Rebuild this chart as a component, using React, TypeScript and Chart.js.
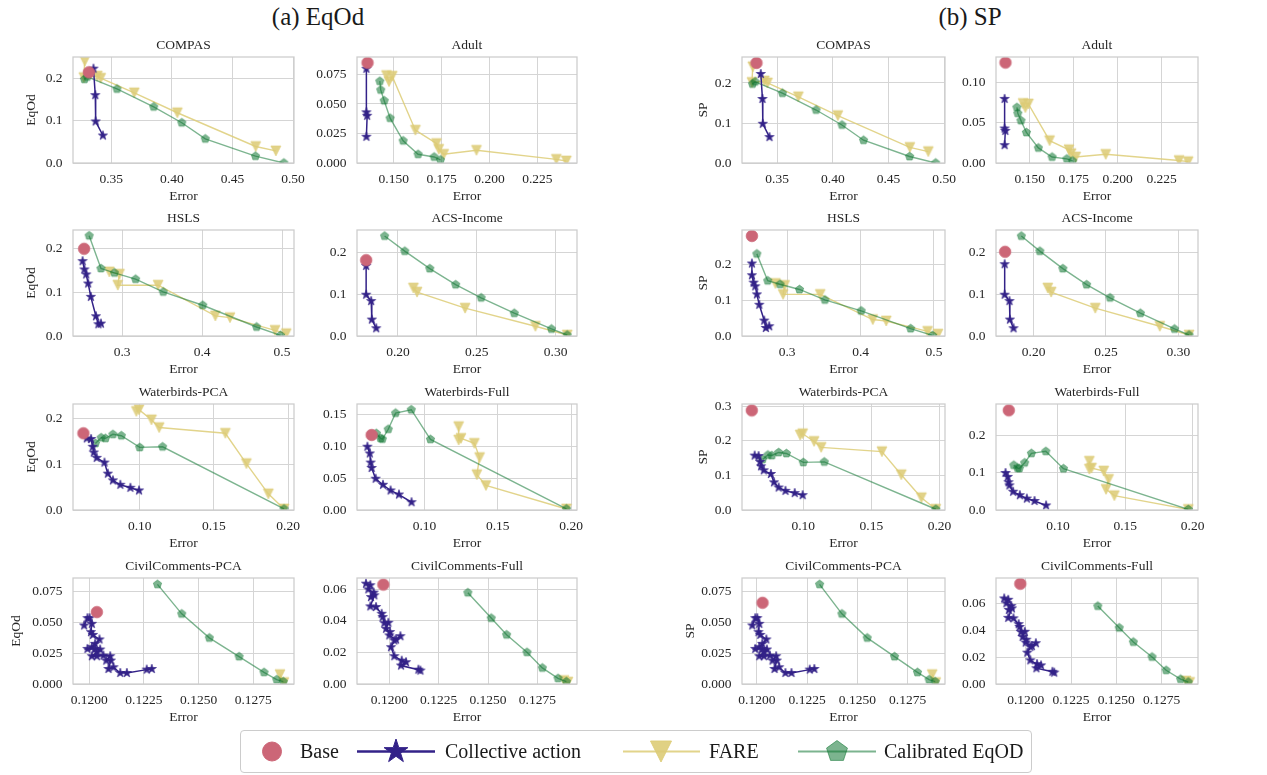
import React, { useEffect, useRef } from 'react';
import { Chart, registerables } from 'chart.js';

Chart.register(...registerables);

type Pt = [number, number];

// ---------------- COMPAS ----------------
const compasErrorRange = [0.3184, 0.5008];
const compasXTicks = ['0.35', '0.40', '0.45', '0.50'];
const compasEqodYTicks = ['0.0', '0.1', '0.2'];
const compasSpYTicks = ['0.0', '0.1', '0.2'];
const compasEqodYMax = 0.25;
const compasSpYMax = 0.265;
const compasEqodBase: Pt[] = [[0.3315, 0.214]];
const compasSpBase: Pt[] = [[0.3314, 0.25]];
const compasCollective: Pt[] = [[0.3353, 0.2225], [0.3368, 0.16], [0.3371, 0.098], [0.3431, 0.0648]];
const compasFare: Pt[] = [[0.3281, 0.2405], [0.3273, 0.2015], [0.3385, 0.205], [0.3413, 0.2], [0.369, 0.1655], [0.4045, 0.1185], [0.4692, 0.039], [0.4858, 0.0285]];
const compasCalib: Pt[] = [[0.3278, 0.1975], [0.3302, 0.203], [0.3547, 0.1746], [0.385, 0.1325], [0.4082, 0.095], [0.4276, 0.057], [0.469, 0.0162], [0.4924, 0]];

// ---------------- Adult ----------------
const adultErrorRange = [0.1308, 0.2457];
const adultXTicks = ['0.150', '0.175', '0.200', '0.225'];
const adultEqodYTicks = ['0.000', '0.025', '0.050', '0.075'];
const adultSpYTicks = ['0.00', '0.05', '0.10'];
const adultEqodYMax = 0.0898;
const adultSpYMax = 0.132;
const adultEqodBase: Pt[] = [[0.1363, 0.0849]];
const adultSpBase: Pt[] = [[0.1362, 0.125]];
const adultCollective: Pt[] = [[0.1357, 0.0798], [0.1357, 0.0429], [0.1361, 0.04], [0.1357, 0.0222]];
const adultFare: Pt[] = [[0.1462, 0.0741], [0.1475, 0.069], [0.1492, 0.0735], [0.1613, 0.0278], [0.1723, 0.0165], [0.1735, 0.0116], [0.1761, 0.0074], [0.1932, 0.0108], [0.2349, 0.0031], [0.2401, 0.0017]];
const adultCalib: Pt[] = [[0.1427, 0.0693], [0.1432, 0.0619], [0.145, 0.0528], [0.1481, 0.038], [0.1549, 0.0188], [0.1627, 0.0074], [0.1711, 0.0051], [0.1744, 0.0026]];

// ---------------- HSLS ----------------
const hslsErrorRange = [0.2385, 0.515];
const hslsXTicks = ['0.3', '0.4', '0.5'];
const hslsEqodYTicks = ['0.0', '0.1', '0.2'];
const hslsSpYTicks = ['0.0', '0.1', '0.2'];
const hslsEqodYMax = 0.243;
const hslsSpYMax = 0.2967;
const hslsEqodBase: Pt[] = [[0.2524, 0.2]];
const hslsSpBase: Pt[] = [[0.252, 0.28]];
const hslsEqodCollective: Pt[] = [[0.2505, 0.1716], [0.2528, 0.1525], [0.255, 0.141], [0.2575, 0.1203], [0.2608, 0.0897], [0.2672, 0.0452], [0.2703, 0.0268], [0.2735, 0.0284]];
const hslsSpCollective: Pt[] = [[0.252, 0.2028], [0.252, 0.17], [0.2543, 0.1493], [0.2566, 0.139], [0.2588, 0.1164], [0.262, 0.0873], [0.2688, 0.0432], [0.271, 0.0225], [0.2756, 0.0272]];
const hslsFare: Pt[] = [[0.284, 0.147], [0.2966, 0.1418], [0.2945, 0.1165], [0.345, 0.1165], [0.4166, 0.046], [0.4349, 0.0421], [0.4913, 0.013], [0.5053, 0.0054]];
const hslsCalib: Pt[] = [[0.2587, 0.2299], [0.2735, 0.1548], [0.2903, 0.1448], [0.3168, 0.1303], [0.3514, 0.1011], [0.4008, 0.0705], [0.4682, 0.0207], [0.4981, 0.0015]];

// ---------------- ACS-Income ----------------
const acsErrorRange = [0.174, 0.3136];
const acsXTicks = ['0.20', '0.25', '0.30'];
const acsEqodYTicks = ['0.0', '0.1', '0.2'];
const acsSpYTicks = ['0.0', '0.1', '0.2'];
const acsEqodYMax = 0.2548;
const acsSpYMax = 0.2548;
const acsEqodBase: Pt[] = [[0.1798, 0.1823]];
const acsSpBase: Pt[] = [[0.1803, 0.2024]];
const acsEqodCollective: Pt[] = [[0.1798, 0.1685], [0.1798, 0.0992], [0.183, 0.0839], [0.1834, 0.0395], [0.1862, 0.0185]];
const acsSpCollective: Pt[] = [[0.18, 0.1726], [0.18, 0.0992], [0.1833, 0.0839], [0.1836, 0.0395], [0.1861, 0.0185]];
const acsFare: Pt[] = [[0.2098, 0.1153], [0.2121, 0.1056], [0.2426, 0.0669], [0.2872, 0.0234], [0.3074, 0.0024]];
const acsCalib: Pt[] = [[0.1915, 0.2403], [0.2043, 0.204], [0.2202, 0.162], [0.2366, 0.1234], [0.2528, 0.0919], [0.2738, 0.0548], [0.2974, 0.0169], [0.3074, 0.0024]];

// ---------------- Waterbirds-PCA ----------------
const wbPcaErrorRange = [0.055, 0.204];
const wbPcaXTicks = ['0.10', '0.15', '0.20'];
const wbPcaEqodYTicks = ['0.0', '0.1', '0.2'];
const wbPcaSpYTicks = ['0.0', '0.1', '0.2', '0.3'];
const wbPcaEqodYMax = 0.2325;
const wbPcaSpYMax = 0.3058;
const wbPcaEqodBase: Pt[] = [[0.062, 0.1683]];
const wbPcaSpBase: Pt[] = [[0.0622, 0.2874]];
const wbPcaCollective: Pt[] = [[0.0643, 0.157], [0.0672, 0.1557], [0.0683, 0.1387], [0.069, 0.126], [0.071, 0.1144], [0.0762, 0.104], [0.0785, 0.0797], [0.0819, 0.0649], [0.0869, 0.0553], [0.0937, 0.0487], [0.0995, 0.0428]];
const wbPcaFare: Pt[] = [[0.0977, 0.2162], [0.0995, 0.22], [0.1079, 0.1978], [0.1131, 0.1808], [0.1577, 0.1683], [0.1719, 0.1018], [0.1867, 0.0354], [0.1973, 0.0022]];
const wbPcaCalib: Pt[] = [[0.0701, 0.1461], [0.074, 0.1587], [0.0769, 0.1572], [0.0819, 0.166], [0.0876, 0.163], [0.1, 0.1373], [0.1154, 0.1387], [0.1973, 0.0022]];

// ---------------- Waterbirds-Full ----------------
const wbFullErrorRange = [0.054, 0.204];
const wbFullXTicks = ['0.10', '0.15', '0.20'];
const wbFullEqodYTicks = ['0.00', '0.05', '0.10', '0.15'];
const wbFullSpYTicks = ['0.0', '0.1', '0.2'];
const wbFullEqodYMax = 0.1667;
const wbFullSpYMax = 0.285;
const wbFullEqodBase: Pt[] = [[0.064, 0.118]];
const wbFullSpBase: Pt[] = [[0.0635, 0.268]];
const wbFullCollective: Pt[] = [[0.0611, 0.0995], [0.0627, 0.0889], [0.0633, 0.0746], [0.064, 0.0661], [0.0667, 0.0492], [0.0717, 0.0397], [0.0769, 0.0307], [0.0826, 0.0243], [0.0912, 0.0122]];
const wbFullFare: Pt[] = [[0.1233, 0.1312], [0.1233, 0.11], [0.1249, 0.1127], [0.134, 0.1048], [0.1376, 0.0825], [0.1357, 0.0556], [0.1419, 0.0386], [0.1968, 0.0016]];
const wbFullCalib: Pt[] = [[0.0672, 0.1206], [0.0701, 0.1127], [0.0713, 0.1116], [0.0753, 0.127], [0.0803, 0.1524], [0.091, 0.1577], [0.1041, 0.1111], [0.1968, 0.0016]];

// ---------------- CivilComments-PCA ----------------
const ccPcaErrorRange = [0.11926, 0.12936];
const ccPcaXTicks = ['0.1200', '0.1225', '0.1250', '0.1275'];
const ccPcaEqodYTicks = ['0.000', '0.025', '0.050', '0.075'];
const ccPcaSpYTicks = ['0.000', '0.025', '0.050', '0.075'];
const ccPcaEqodYMax = 0.0855;
const ccPcaSpYMax = 0.0855;
const ccPcaEqodBase: Pt[] = [[0.12035, 0.058]];
const ccPcaSpBase: Pt[] = [[0.12028, 0.0655]];
const ccPcaCollective: Pt[] = [
  [0.11977, 0.0472], [0.11992, 0.0531], [0.12002, 0.0531], [0.12012, 0.0485], [0.12008, 0.0418],
  [0.12017, 0.0396], [0.12047, 0.0359], [0.12027, 0.0324], [0.12012, 0.0297], [0.11992, 0.0283],
  [0.12027, 0.0283], [0.1205, 0.0278], [0.12035, 0.0256], [0.12012, 0.0224], [0.12035, 0.0224],
  [0.12065, 0.0229], [0.12096, 0.0224], [0.12078, 0.0189], [0.12099, 0.0189], [0.12088, 0.0121],
  [0.12111, 0.0135], [0.12142, 0.0089], [0.12172, 0.0089], [0.12263, 0.0116], [0.12286, 0.0121],
];
const ccPcaFare: Pt[] = [[0.12872, 0.0076], [0.1289, 0.0012]];
const ccPcaCalib: Pt[] = [[0.12312, 0.0804], [0.12423, 0.0566], [0.12549, 0.0372], [0.12685, 0.0221], [0.12799, 0.0094], [0.12857, 0.0035], [0.12887, 0.0019]];

// ---------------- CivilComments-Full ----------------
const ccFullErrorRange = [0.11836, 0.12951];
const ccFullXTicks = ['0.1200', '0.1225', '0.1250', '0.1275'];
const ccFullEqodYTicks = ['0.00', '0.02', '0.04', '0.06'];
const ccFullSpYTicks = ['0.00', '0.02', '0.04', '0.06'];
const ccFullEqodYMax = 0.0672;
const ccFullSpYMax = 0.0788;
const ccFullEqodBase: Pt[] = [[0.119695, 0.063]];
const ccFullSpBase: Pt[] = [[0.1197, 0.0745]];
const ccFullCollective: Pt[] = [
  [0.118815, 0.0636], [0.119035, 0.0626], [0.118934, 0.06], [0.119204, 0.0579], [0.119069, 0.0551],
  [0.119238, 0.0562], [0.119035, 0.0492], [0.119323, 0.0488], [0.119611, 0.0445], [0.119661, 0.0424],
  [0.119746, 0.0386], [0.119949, 0.0388], [0.119831, 0.035], [0.120034, 0.0329], [0.12, 0.0308],
  [0.120339, 0.0282], [0.120559, 0.0303], [0.120254, 0.0276], [0.120085, 0.0233], [0.120254, 0.0176],
  [0.120626, 0.0148], [0.120846, 0.0138], [0.120592, 0.0117], [0.121473, 0.0091], [0.121574, 0.0085],
];
const ccFullFare: Pt[] = [[0.12885, 0.0022], [0.12905, 0.0012]];
const ccFullCalib: Pt[] = [[0.123978, 0.0579], [0.125162, 0.0418], [0.125941, 0.0312], [0.126974, 0.0201], [0.127752, 0.0102], [0.128548, 0.0036], [0.128971, 0.0015]];

// ---------------- Legend / titles ----------------
const seriesNames = ['Base', 'Collective action', 'FARE', 'Calibrated EqOD'];
const groupTitles = ['(a) EqOd', '(b) SP'];

// ---------------- Style ----------------
const FONT = "'Liberation Serif', 'Times New Roman', serif";
const TEXT = '#262626';
const GRID = '#d5d5d5';
const SPINE = '#cccccc';
const RED = '#CC6677';
const NAVY = '#332288';
const SAND = '#DDCC77';
const GREEN = '#117733';

const COLS = [73, 357, 742, 996];
const COLW = [221, 220, 203, 202];
const ROWS = [57, 230, 404, 578];
const ROWH = 106;
const TH = 28;
const XH = 42;
const PR = 28;
const PB = 2;

interface Panel {
  title: string; col: number; row: number; yLabel: string | null; yw: number; yLabelPad: number;
  xRange: number[]; yMax: number; xTicks: string[]; yTicks: string[];
  base: Pt[]; collective: Pt[]; fare: Pt[]; calib: Pt[];
}

// distance (px) from the plot's left edge to the centre of the y-axis label
function yLabelOffset(col: number, row: number) {
  if (col === 0) return row === 3 ? 57 : 41.6;
  return row === 3 ? 52 : 39;
}

const mk = (title: string, col: number, row: number, xRange: number[], yMax: number, xTicks: string[], yTicks: string[], base: Pt[], collective: Pt[], fare: Pt[], calib: Pt[]): Panel => {
  const hasLabel = col === 0 || col === 2;
  const yw = hasLabel && row === 3 ? 76 : 60;
  return {
    title, col, row, yLabel: col === 0 ? 'EqOd' : col === 2 ? 'SP' : null,
    yw, yLabelPad: yw - 8.1 - yLabelOffset(col, row),
    xRange, yMax, xTicks, yTicks, base, collective, fare, calib,
  };
};

const PANELS: Panel[] = [
  mk('COMPAS', 0, 0, compasErrorRange, compasEqodYMax, compasXTicks, compasEqodYTicks, compasEqodBase, compasCollective, compasFare, compasCalib),
  mk('Adult', 1, 0, adultErrorRange, adultEqodYMax, adultXTicks, adultEqodYTicks, adultEqodBase, adultCollective, adultFare, adultCalib),
  mk('HSLS', 0, 1, hslsErrorRange, hslsEqodYMax, hslsXTicks, hslsEqodYTicks, hslsEqodBase, hslsEqodCollective, hslsFare, hslsCalib),
  mk('ACS-Income', 1, 1, acsErrorRange, acsEqodYMax, acsXTicks, acsEqodYTicks, acsEqodBase, acsEqodCollective, acsFare, acsCalib),
  mk('Waterbirds-PCA', 0, 2, wbPcaErrorRange, wbPcaEqodYMax, wbPcaXTicks, wbPcaEqodYTicks, wbPcaEqodBase, wbPcaCollective, wbPcaFare, wbPcaCalib),
  mk('Waterbirds-Full', 1, 2, wbFullErrorRange, wbFullEqodYMax, wbFullXTicks, wbFullEqodYTicks, wbFullEqodBase, wbFullCollective, wbFullFare, wbFullCalib),
  mk('CivilComments-PCA', 0, 3, ccPcaErrorRange, ccPcaEqodYMax, ccPcaXTicks, ccPcaEqodYTicks, ccPcaEqodBase, ccPcaCollective, ccPcaFare, ccPcaCalib),
  mk('CivilComments-Full', 1, 3, ccFullErrorRange, ccFullEqodYMax, ccFullXTicks, ccFullEqodYTicks, ccFullEqodBase, ccFullCollective, ccFullFare, ccFullCalib),
  mk('COMPAS', 2, 0, compasErrorRange, compasSpYMax, compasXTicks, compasSpYTicks, compasSpBase, compasCollective, compasFare, compasCalib),
  mk('Adult', 3, 0, adultErrorRange, adultSpYMax, adultXTicks, adultSpYTicks, adultSpBase, adultCollective, adultFare, adultCalib),
  mk('HSLS', 2, 1, hslsErrorRange, hslsSpYMax, hslsXTicks, hslsSpYTicks, hslsSpBase, hslsSpCollective, hslsFare, hslsCalib),
  mk('ACS-Income', 3, 1, acsErrorRange, acsSpYMax, acsXTicks, acsSpYTicks, acsSpBase, acsSpCollective, acsFare, acsCalib),
  mk('Waterbirds-PCA', 2, 2, wbPcaErrorRange, wbPcaSpYMax, wbPcaXTicks, wbPcaSpYTicks, wbPcaSpBase, wbPcaCollective, wbPcaFare, wbPcaCalib),
  mk('Waterbirds-Full', 3, 2, wbFullErrorRange, wbFullSpYMax, wbFullXTicks, wbFullSpYTicks, wbFullSpBase, wbFullCollective, wbFullFare, wbFullCalib),
  mk('CivilComments-PCA', 2, 3, ccPcaErrorRange, ccPcaSpYMax, ccPcaXTicks, ccPcaSpYTicks, ccPcaSpBase, ccPcaCollective, ccPcaFare, ccPcaCalib),
  mk('CivilComments-Full', 3, 3, ccFullErrorRange, ccFullSpYMax, ccFullXTicks, ccFullSpYTicks, ccFullSpBase, ccFullCollective, ccFullFare, ccFullCalib),
];

// ---------------- Marker drawing ----------------
type Kind = 'circle' | 'star' | 'tri' | 'pent';

function tracePath(ctx: CanvasRenderingContext2D, kind: Kind, r: number, cx: number, cy: number) {
  ctx.beginPath();
  if (kind === 'circle') {
    ctx.arc(cx, cy, r, 0, Math.PI * 2);
  } else if (kind === 'star') {
    for (let i = 0; i < 10; i++) {
      const a = -Math.PI / 2 + (i * Math.PI) / 5;
      const rr = i % 2 === 0 ? r : r * 0.381966;
      const px = cx + rr * Math.cos(a);
      const py = cy + rr * Math.sin(a);
      if (i === 0) ctx.moveTo(px, py); else ctx.lineTo(px, py);
    }
  } else if (kind === 'tri') {
    ctx.moveTo(cx, cy + r);
    ctx.lineTo(cx - r, cy - r);
    ctx.lineTo(cx + r, cy - r);
  } else {
    for (let i = 0; i < 5; i++) {
      const a = -Math.PI / 2 + (i * 2 * Math.PI) / 5;
      const px = cx + r * Math.cos(a);
      const py = cy + r * Math.sin(a);
      if (i === 0) ctx.moveTo(px, py); else ctx.lineTo(px, py);
    }
  }
  ctx.closePath();
}

function drawMarker(ctx: CanvasRenderingContext2D, kind: Kind, r: number, cx: number, cy: number, color: string, alpha: number, lw: number) {
  ctx.save();
  ctx.globalAlpha = alpha;
  tracePath(ctx, kind, r, cx, cy);
  ctx.fillStyle = color;
  ctx.fill();
  ctx.lineWidth = lw;
  ctx.strokeStyle = color;
  ctx.lineJoin = 'miter';
  ctx.stroke();
  ctx.restore();
}

function markerImage(kind: Kind, r: number, color: string, alpha: number): HTMLCanvasElement {
  const s = Math.ceil(r * 2 + 4);
  const c = document.createElement('canvas');
  c.width = s;
  c.height = s;
  const ctx = c.getContext('2d')!;
  drawMarker(ctx, kind, r, s / 2, s / 2, color, alpha, 0.7);
  return c;
}

function rgba(hex: string, a: number) {
  const n = parseInt(hex.slice(1), 16);
  return `rgba(${(n >> 16) & 255},${(n >> 8) & 255},${n & 255},${a})`;
}

const framePlugin = {
  id: 'frame',
  afterDatasetsDraw(chart: any) {
    const { ctx, chartArea } = chart;
    const { left, top, right, bottom } = chartArea;
    ctx.save();
    ctx.strokeStyle = SPINE;
    ctx.lineWidth = 1.25;
    ctx.strokeRect(left, top, right - left, bottom - top);
    ctx.restore();
  },
};

const toXY = (pts: Pt[]) => pts.map(([x, y]) => ({ x, y }));

function makeConfig(p: Panel, imgs: Record<Kind, HTMLCanvasElement>): any {
  const font = { family: FONT, size: 13.5, weight: 'normal' as const, lineHeight: 1.2 };
  return {
    type: 'scatter',
    data: {
      datasets: [
        {
          label: seriesNames[0], data: toXY(p.base), showLine: false, order: 0, clip: 0,
          pointStyle: imgs.circle, pointRadius: 6, pointHoverRadius: 6,
        },
        {
          label: seriesNames[1], data: toXY(p.collective), showLine: true, order: 1, clip: 0,
          borderColor: NAVY, borderWidth: 1.5, tension: 0,
          pointStyle: imgs.star, pointRadius: 4.5, pointHoverRadius: 4.5,
        },
        {
          label: seriesNames[3], data: toXY(p.calib), showLine: true, order: 2, clip: 0,
          borderColor: rgba(GREEN, 0.55), borderWidth: 1.4, tension: 0,
          pointStyle: imgs.pent, pointRadius: 4, pointHoverRadius: 4,
        },
        {
          label: seriesNames[2], data: toXY(p.fare), showLine: true, order: 3, clip: 0,
          borderColor: rgba(SAND, 0.85), borderWidth: 1.4, tension: 0,
          pointStyle: imgs.tri, pointRadius: 5, pointHoverRadius: 5,
        },
      ],
    },
    options: {
      responsive: false,
      animation: false,
      events: [],
      layout: { padding: { left: 0, right: PR, top: 0, bottom: PB } },
      plugins: {
        legend: { display: false },
        tooltip: { enabled: false },
        title: {
          display: true, text: p.title, fullSize: false, color: TEXT, font,
          padding: { top: 8, bottom: 3.8 },
        },
      },
      scales: {
        x: {
          type: 'linear', position: 'bottom', min: p.xRange[0], max: p.xRange[1],
          afterBuildTicks: (s: any) => { s.ticks = p.xTicks.map((v) => ({ value: parseFloat(v) })); },
          afterFit: (s: any) => { s.height = XH; },
          ticks: {
            autoSkip: false, padding: 8, color: TEXT, font, maxRotation: 0, minRotation: 0,
            callback: (_v: any, i: number) => p.xTicks[i],
          },
          grid: { color: GRID, lineWidth: 1, drawTicks: false },
          border: { display: false },
          title: { display: true, text: 'Error', color: TEXT, font, padding: { top: 0, bottom: 0.5 } },
        },
        y: {
          type: 'linear', position: 'left', min: 0, max: p.yMax,
          afterBuildTicks: (s: any) => { s.ticks = p.yTicks.map((v) => ({ value: parseFloat(v) })); },
          afterFit: (s: any) => { s.width = p.yw; },
          ticks: {
            autoSkip: false, padding: 10.5, color: TEXT, font,
            callback: (_v: any, i: number) => p.yTicks[i],
          },
          grid: { color: GRID, lineWidth: 1, drawTicks: false },
          border: { display: false },
          title: {
            display: !!p.yLabel, text: p.yLabel || '', color: TEXT, font,
            padding: { top: p.yLabelPad, bottom: 0 },
          },
        },
      },
    },
    plugins: [framePlugin],
  };
}

// Legend layout (page coordinates)
const LEG_LEFT = 240;
const LEG_TOP = 730;
const LEG_W = 792;
const LEG_H = 43;
const legendTextX = [300, 445, 709, 884];

function drawLegend(canvas: HTMLCanvasElement) {
  const ctx = canvas.getContext('2d')!;
  ctx.clearRect(0, 0, canvas.width, canvas.height);
  const cy = LEG_H / 2;
  const line = (x0: number, x1: number, color: string, lw: number) => {
    ctx.save();
    ctx.strokeStyle = color;
    ctx.lineWidth = lw;
    ctx.beginPath();
    ctx.moveTo(x0, cy);
    ctx.lineTo(x1, cy);
    ctx.stroke();
    ctx.restore();
  };
  drawMarker(ctx, 'circle', 9.5, 272 - LEG_LEFT, cy, RED, 1, 1);
  line(357 - LEG_LEFT, 435 - LEG_LEFT, NAVY, 2.5);
  drawMarker(ctx, 'star', 12.5, 396 - LEG_LEFT, cy, NAVY, 1, 1);
  line(623 - LEG_LEFT, 700 - LEG_LEFT, rgba(SAND, 0.85), 2.2);
  drawMarker(ctx, 'tri', 10.5, 661 - LEG_LEFT, cy, SAND, 0.9, 1);
  line(798 - LEG_LEFT, 876 - LEG_LEFT, rgba(GREEN, 0.55), 2.2);
  drawMarker(ctx, 'pent', 11, 837 - LEG_LEFT, cy, GREEN, 0.55, 1);
}

export default function App() {
  const canvasRefs = useRef<(HTMLCanvasElement | null)[]>([]);
  const legendRef = useRef<HTMLCanvasElement | null>(null);

  useEffect(() => {
    const imgs: Record<Kind, HTMLCanvasElement> = {
      circle: markerImage('circle', 5.8, RED, 1),
      star: markerImage('star', 4.8, NAVY, 1),
      tri: markerImage('tri', 5, SAND, 0.88),
      pent: markerImage('pent', 4.4, GREEN, 0.55),
    };
    const charts = PANELS.map((p, i) => {
      const c = canvasRefs.current[i];
      return c ? new Chart(c, makeConfig(p, imgs)) : null;
    });
    if (legendRef.current) drawLegend(legendRef.current);
    return () => {
      charts.forEach((c) => c && c.destroy());
    };
  }, []);

  return (
    <div
      style={{
        position: 'absolute', left: 0, top: 0, width: 1267, height: 775,
        overflow: 'hidden', background: '#ffffff', fontFamily: FONT, color: TEXT,
      }}
    >
      {groupTitles.map((t, i) => (
        <div
          key={t}
          style={{
            position: 'absolute', left: (i === 0 ? 318 : 970) - 150, width: 300, top: 3,
            textAlign: 'center', fontSize: 25, lineHeight: '28px', color: '#1a1a1a',
          }}
        >
          {t}
        </div>
      ))}
      {PANELS.map((p, i) => {
        const left = COLS[p.col] - p.yw;
        const top = ROWS[p.row] - TH;
        const w = p.yw + COLW[p.col] + PR;
        const h = TH + ROWH + XH + PB;
        return (
          <canvas
            key={i}
            ref={(el) => { canvasRefs.current[i] = el; }}
            width={w}
            height={h}
            style={{ position: 'absolute', left, top, width: w, height: h }}
          />
        );
      })}
      <div
        style={{
          position: 'absolute', left: LEG_LEFT, top: LEG_TOP, width: LEG_W, height: LEG_H,
          border: '1px solid #cccccc', borderRadius: 4, boxSizing: 'border-box', background: '#ffffff',
        }}
      />
      <canvas
        ref={legendRef}
        width={LEG_W}
        height={LEG_H}
        style={{ position: 'absolute', left: LEG_LEFT, top: LEG_TOP, width: LEG_W, height: LEG_H }}
      />
      {seriesNames.map((n, i) => (
        <div
          key={n}
          style={{
            position: 'absolute', left: legendTextX[i], top: LEG_TOP, height: LEG_H,
            display: 'flex', alignItems: 'center', fontSize: 20, whiteSpace: 'nowrap', color: '#1a1a1a',
          }}
        >
          {n}
        </div>
      ))}
    </div>
  );
}
